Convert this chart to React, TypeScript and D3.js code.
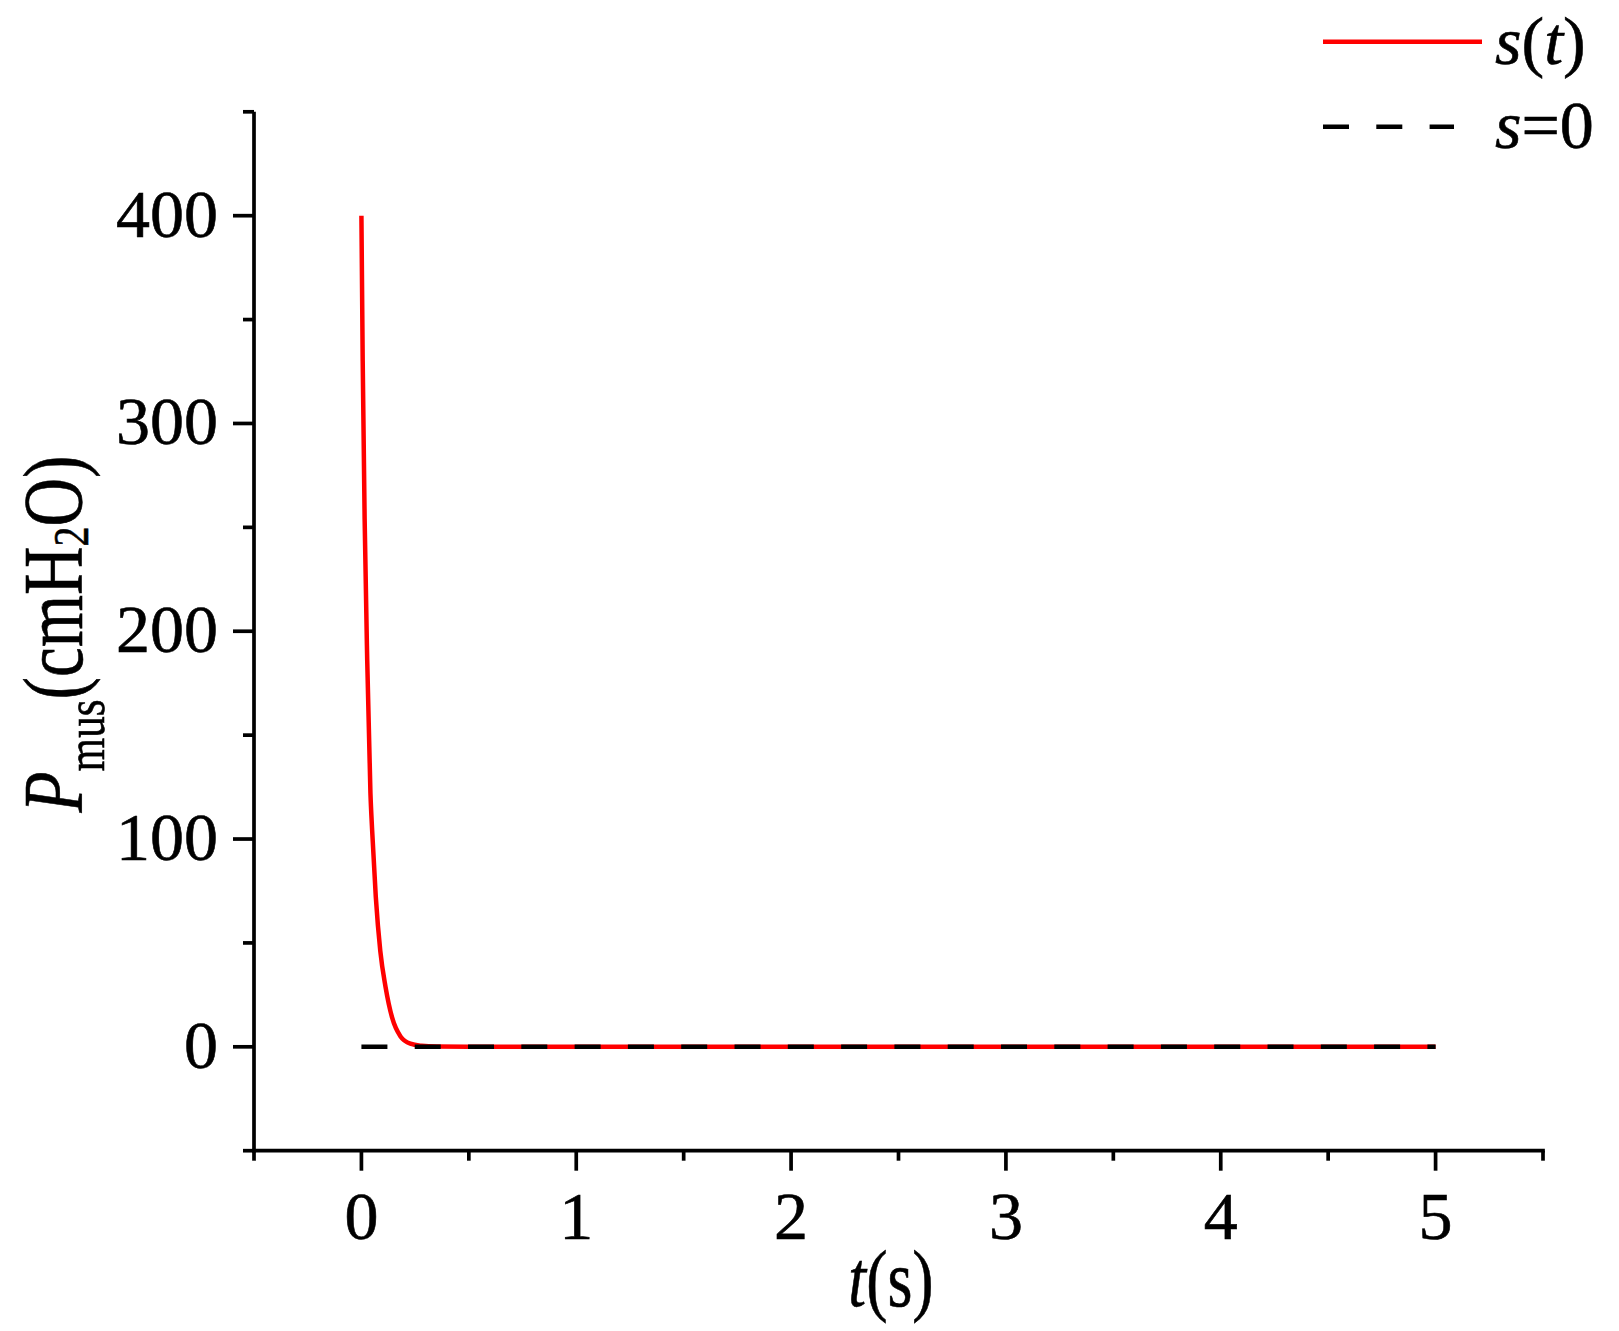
import React from "react";
import * as d3 from "d3";

const timeS = [0, 0.006, 0.015, 0.027, 0.042, 0.05, 0.067, 0.088, 0.112, 0.143, 0.182, 0.228, 0.28, 0.35, 0.5, 1, 2, 3, 4, 5];
const sValues = [400, 330, 254, 186, 122, 104, 72, 46, 29, 14, 5, 1.5, 0.5, 0.1, 0, 0, 0, 0, 0, 0];
const zeroT = [0, 5];
const zeroValues = [0, 0];
const xMajorTicks = [0, 1, 2, 3, 4, 5];
const xMinorTicks = [-0.5, 0.5, 1.5, 2.5, 3.5, 4.5, 5.5];
const yMajorTicks = [0, 100, 200, 300, 400];
const yMinorTicks = [-50, 50, 150, 250, 350, 450];

const W = 1619;
const H = 1331;
const FONT = "Liberation Serif";

export default function App() {
  const x = d3.scaleLinear().domain([-0.5, 5.5]).range([254, 1543]);
  const y = d3.scaleLinear().domain([-50, 450]).range([1150.7, 111.8]);

  const line = d3
    .line<number>()
    .x((_, i) => x(timeS[i]))
    .y((d) => y(d))
    .curve(d3.curveMonotoneX);
  const zeroLine = d3
    .line<number>()
    .x((_, i) => x(zeroT[i]))
    .y((d) => y(d));

  const axisW = 3.7;
  const x0 = x.range()[0];
  const yBase = y.range()[0];
  const ts = { fontFamily: FONT, stroke: "#000", strokeWidth: 0.6 };

  return (
    <svg
      width={W}
      height={H}
      style={{ position: "absolute", left: 0, top: 0, background: "#fff", fontFamily: FONT }}
    >
      <rect x={0} y={0} width={W} height={H} fill="#fff" />
      {/* data */}
      <path d={line(sValues) || ""} fill="none" stroke="#ff0000" strokeWidth={4.5} />
      <path
        d={zeroLine(zeroValues) || ""}
        fill="none"
        stroke="#000"
        strokeWidth={4.5}
        strokeDasharray="26 27.3"
      />

      {/* axes */}
      <line x1={x0} x2={x0} y1={y.range()[1]} y2={yBase + axisW / 2} stroke="#000" strokeWidth={axisW} />
      <line x1={x0 - axisW / 2} x2={x.range()[1] + axisW / 2} y1={yBase} y2={yBase} stroke="#000" strokeWidth={axisW} />

      {xMajorTicks.map((t) => (
        <g key={"xM" + t}>
          <line x1={x(t)} x2={x(t)} y1={yBase} y2={yBase + 20} stroke="#000" strokeWidth={axisW} />
          <text x={x(t)} y={1239} textAnchor="middle" fontSize={68} style={ts}>
            {t}
          </text>
        </g>
      ))}
      {xMinorTicks.map((t) => (
        <line key={"xm" + t} x1={x(t)} x2={x(t)} y1={yBase} y2={yBase + 10} stroke="#000" strokeWidth={axisW} />
      ))}
      {yMajorTicks.map((v) => (
        <g key={"yM" + v}>
          <line x1={x0} x2={x0 - 21} y1={y(v)} y2={y(v)} stroke="#000" strokeWidth={axisW} />
          <text x={218} y={y(v) + 21} textAnchor="end" fontSize={68} style={ts}>
            {v}
          </text>
        </g>
      ))}
      {yMinorTicks.map((v) => (
        <line key={"ym" + v} x1={x0} x2={x0 - 11} y1={y(v)} y2={y(v)} stroke="#000" strokeWidth={axisW} />
      ))}

      {/* axis titles */}
      <text transform="translate(891,1306) scale(0.8,1)" textAnchor="middle" fontSize={80} style={ts}>
        <tspan fontStyle="italic">t</tspan>
        <tspan>(s)</tspan>
      </text>
      <text transform="translate(82,634) rotate(-90) scale(0.8,1)" textAnchor="middle" fontSize={84} style={ts}>
        <tspan fontStyle="italic">P</tspan>
        <tspan fontSize={54} dy={22}>mus</tspan>
        <tspan dy={-22}>(cmH</tspan>
        <tspan fontSize={50} dy={6}>2</tspan>
        <tspan dy={-6}>O)</tspan>
      </text>

      {/* legend */}
      <line x1={1323} x2={1482} y1={41.7} y2={41.7} stroke="#ff0000" strokeWidth={4.5} />
      <text x={1495} y={64} fontSize={68} style={ts}>
        <tspan fontStyle="italic">s</tspan>
        <tspan>(</tspan>
        <tspan fontStyle="italic">t</tspan>
        <tspan>)</tspan>
      </text>
      <line x1={1323} x2={1454} y1={126.7} y2={126.7} stroke="#000" strokeWidth={4.5} strokeDasharray="26 27.3" />
      <text x={1495} y={148} fontSize={68} style={ts}>
        <tspan fontStyle="italic">s</tspan>
        <tspan>=0</tspan>
      </text>
    </svg>
  );
}
